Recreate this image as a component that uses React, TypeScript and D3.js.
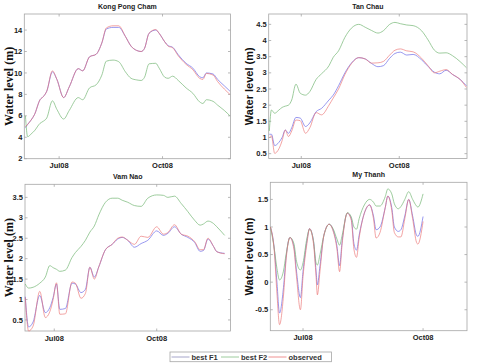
import * as d3 from 'd3';

// Kong Pong Cham
const kpcDates = ['2008-06-01','2008-06-03','2008-06-06','2008-06-09','2008-06-14','2008-06-17','2008-06-20','2008-06-25','2008-06-29','2008-07-05','2008-07-10','2008-07-18','2008-07-22','2008-07-28','2008-08-03','2008-08-08','2008-08-12','2008-08-18','2008-08-23','2008-08-29','2008-09-03','2008-09-08','2008-09-12','2008-09-15','2008-09-19','2008-09-25','2008-09-28','2008-10-03','2008-10-06','2008-10-10','2008-10-15','2008-10-22','2008-10-28','2008-11-03','2008-11-06','2008-11-09','2008-11-15','2008-11-19','2008-11-25','2008-11-30'];
const kpcF1 = [4.9,5.2,5.6,6.1,7.5,7.8,8.3,10.1,9.4,7.7,8.7,10.4,10.2,11.5,11.75,12.8,14.1,14.25,14.25,13.4,12.5,12.1,12.0,12.3,13.7,14.0,13.7,12.9,12.55,12.4,11.7,10.9,10.45,9.65,9.55,10.0,9.9,9.4,8.8,8.3];
const kpcF2 = [6.0,4.05,4.3,4.6,5.3,5.5,5.8,7.4,6.6,5.7,6.5,7.7,7.5,8.6,8.9,9.8,11.1,11.2,11.05,10.1,9.5,9.35,9.3,9.6,10.85,10.9,10.45,9.6,9.5,9.7,9.3,8.6,8.1,7.3,7.15,7.5,7.35,7.0,6.5,6.0];
const kpcObs = [5.0,5.2,5.6,6.1,7.5,7.8,8.3,10.2,9.4,7.7,8.7,10.4,10.2,11.5,11.75,12.8,14.2,14.4,14.4,13.4,12.5,12.1,12.0,12.3,13.7,14.05,13.7,12.9,12.5,12.35,11.6,10.8,10.3,9.5,9.4,9.95,9.8,9.2,8.5,8.0];

// Tan Chau
const tcDates = ['2008-06-01','2008-06-03','2008-06-06','2008-06-10','2008-06-13','2008-06-16','2008-06-19','2008-06-22','2008-06-26','2008-06-30','2008-07-05','2008-07-09','2008-07-15','2008-07-20','2008-07-27','2008-07-31','2008-08-05','2008-08-11','2008-08-17','2008-08-24','2008-08-30','2008-09-05','2008-09-11','2008-09-16','2008-09-22','2008-09-27','2008-10-02','2008-10-08','2008-10-14','2008-10-22','2008-10-28','2008-11-03','2008-11-08','2008-11-14','2008-11-20','2008-11-27','2008-12-03'];
const tcF1 = [1.1,1.1,0.75,0.85,1.0,1.23,1.13,1.3,1.62,1.6,1.34,1.45,1.8,1.9,2.16,2.31,2.6,3.0,3.3,3.47,3.43,3.29,3.19,3.22,3.45,3.6,3.64,3.55,3.57,3.4,3.2,3.02,2.97,3.08,2.95,2.8,2.6];
const tcF2 = [1.2,1.85,1.75,1.85,1.93,1.97,2.0,2.16,2.65,2.37,2.31,2.42,2.8,2.97,3.22,3.48,3.68,4.1,4.38,4.5,4.41,4.31,4.23,4.3,4.5,4.56,4.52,4.48,4.46,4.3,4.02,3.7,3.61,3.62,3.53,3.35,3.16];
const tcObs = [1.0,1.05,0.51,0.65,0.9,1.23,1.03,1.2,1.54,1.52,1.13,1.3,1.77,1.7,2.0,2.22,2.5,2.95,3.28,3.47,3.43,3.3,3.31,3.35,3.55,3.7,3.74,3.68,3.65,3.45,3.22,3.0,3.05,3.1,2.95,2.8,2.55];

// Vam Nao
const vnDates = ['2008-06-05','2008-06-08','2008-06-12','2008-06-18','2008-06-23','2008-06-27','2008-06-30','2008-07-03','2008-07-06','2008-07-11','2008-07-17','2008-07-20','2008-07-25','2008-07-29','2008-08-02','2008-08-06','2008-08-10','2008-08-16','2008-08-22','2008-08-27','2008-08-31','2008-09-05','2008-09-11','2008-09-17','2008-09-23','2008-10-01','2008-10-07','2008-10-11','2008-10-17','2008-10-23','2008-10-29','2008-11-04','2008-11-09','2008-11-12','2008-11-16','2008-11-21','2008-11-24','2008-12-01'];
const vnF1 = [1.07,0.33,0.45,1.1,0.68,0.8,1.05,1.38,0.76,0.78,1.4,1.38,1.17,1.25,1.79,1.55,1.8,2.22,2.35,2.48,2.52,2.45,2.28,2.37,2.45,2.68,2.57,2.62,2.78,2.6,2.52,2.4,2.18,2.2,2.48,2.3,2.17,2.13];
const vnF2 = [1.38,1.28,1.3,1.4,1.55,1.83,1.78,1.74,1.69,1.72,2.03,2.15,2.3,2.45,2.65,2.8,3.07,3.38,3.48,3.48,3.43,3.38,3.3,3.28,3.48,3.56,3.55,3.5,3.53,3.35,3.15,2.94,2.82,2.85,2.92,2.86,2.78,2.57];
const vnObs = [1.05,0.23,0.35,1.2,0.56,0.7,1.0,1.41,0.64,0.65,1.43,1.4,1.03,1.15,1.79,1.5,1.8,2.22,2.35,2.5,2.53,2.45,2.35,2.55,2.52,2.78,2.6,2.64,2.83,2.6,2.55,2.42,2.22,2.22,2.5,2.3,2.17,2.12];

// My Thanh
const mtDates = ['2008-06-06','2008-06-09','2008-06-11','2008-06-13','2008-06-16','2008-06-18','2008-06-21','2008-06-24','2008-06-26','2008-06-29','2008-07-01','2008-07-04','2008-07-06','2008-07-09','2008-07-11','2008-07-12','2008-07-14','2008-07-17','2008-07-21','2008-07-24','2008-07-27','2008-07-29','2008-07-31','2008-08-04','2008-08-07','2008-08-09','2008-08-11','2008-08-13','2008-08-17','2008-08-21','2008-08-24','2008-08-26','2008-08-29','2008-09-02','2008-09-04','2008-09-07','2008-09-09','2008-09-12','2008-09-14','2008-09-17','2008-09-20','2008-09-23','2008-09-26','2008-09-27','2008-10-01'];
const mtF1 = [1.0,0.6,0.0,-0.56,-0.1,0.45,0.81,0.65,0.2,-0.28,0.2,0.75,0.97,0.75,0.2,-0.05,0.3,0.85,1.05,0.95,0.65,0.3,0.75,1.25,1.15,0.7,0.58,0.85,1.25,1.4,1.2,0.95,1.0,1.35,1.56,1.35,1.0,0.92,0.95,1.2,1.5,1.2,0.85,0.83,1.19];
const mtF2 = [1.0,0.6,0.25,0.04,0.2,0.5,0.81,0.7,0.38,0.22,0.35,0.8,0.96,0.75,0.35,0.31,0.5,0.85,1.05,0.97,0.78,0.67,0.85,1.26,1.18,1.0,0.96,1.15,1.4,1.5,1.45,1.38,1.38,1.55,1.69,1.6,1.42,1.33,1.37,1.5,1.64,1.5,1.38,1.36,1.6];
const mtObs = [1.0,0.55,-0.2,-0.77,-0.25,0.4,0.81,0.6,0.1,-0.5,0.1,0.7,0.97,0.7,0.1,-0.23,0.2,0.85,1.05,0.93,0.6,0.19,0.7,1.25,1.12,0.6,0.45,0.8,1.25,1.4,1.15,0.8,0.9,1.35,1.56,1.3,0.9,0.82,0.82,1.15,1.5,1.15,0.72,0.69,1.1];

const xTickDates = ['2008-07-01', '2008-10-01'];
const legendLabels = ['best F1', 'best F2', 'observed'];

const parseDay = d3.timeParse('%Y-%m-%d');
const parseHour = d3.timeParse('%Y-%m-%d %H');
const fmt = d3.timeFormat('%b%y');

const colors = { f1: '#7676ea', f2: '#7dbb7d', obs: '#ea6f6f' };
const serif = '"Liberation Serif", "Times New Roman", serif';
const sans = '"Liberation Sans", Arial, sans-serif';

const panels = [
  { title: 'Kong Pong Cham', dates: kpcDates, f1: kpcF1, f2: kpcF2, obs: kpcObs,
    xDomain: ['2008-05-31 00', '2008-11-30 12'], yDomain: [2, 15.5], yTicks: [2, 4, 6, 8, 10, 12, 14],
    box: [24.3, 14, 230.5, 158.7], labelFont: serif, labelSize: 12, labelX: 8.5 },
  { title: 'Tan Chau', dates: tcDates, f1: tcF1, f2: tcF2, obs: tcObs,
    xDomain: ['2008-05-31 10', '2008-12-03 14'], yDomain: [0.35, 4.82], yTicks: [0.5, 1, 1.5, 2, 2.5, 3, 3.5, 4, 4.5],
    box: [268.7, 14, 467, 158.5], labelFont: sans, labelSize: 11, labelX: 249 },
  { title: 'Vam Nao', dates: vnDates, f1: vnF1, f2: vnF2, obs: vnObs,
    xDomain: ['2008-06-04 18', '2008-12-06 06'], yDomain: [0.23, 3.82], yTicks: [0.5, 1, 1.5, 2, 2.5, 3, 3.5],
    box: [25, 184.3, 230.5, 331], labelFont: serif, labelSize: 12, labelX: 8.7 },
  { title: 'My Thanh', dates: mtDates, f1: mtF1, f2: mtF2, obs: mtObs,
    xDomain: ['2008-06-05 22', '2008-11-03 16'], yDomain: [-0.88, 1.81], yTicks: [-0.5, 0, 0.5, 1, 1.5],
    box: [270.3, 182.3, 467, 330.7], labelFont: sans, labelSize: 11, labelX: 248.7 },
];

function Panel({ p }: { p: any }) {
  const [l, t, r, b] = p.box;
  const x = d3.scaleTime().domain(p.xDomain.map((s: string) => parseHour(s))).range([l, r]);
  const y = d3.scaleLinear().domain(p.yDomain).range([b, t]);
  const dates = p.dates.map((s: string) => parseDay(s));
  const line = d3.line<number>()
    .x((_, i) => x(dates[i]))
    .y((v) => y(v))
    .curve(d3.curveMonotoneX);
  const tk = 2.5;
  return (
    <g>
      <text x={(l + r) / 2} y={t - 5} textAnchor="middle" fontFamily={sans} fontWeight="bold" fontSize={7} fill="#222">{p.title}</text>
      <rect x={l} y={t} width={r - l} height={b - t} fill="white" stroke="#a6a6a6" strokeWidth={0.8} />
      {p.yTicks.map((v: number) => (
        <g key={v}>
          <line x1={l} x2={l + tk} y1={y(v)} y2={y(v)} stroke="#a6a6a6" strokeWidth={0.8} />
          <line x1={r} x2={r - tk} y1={y(v)} y2={y(v)} stroke="#a6a6a6" strokeWidth={0.8} />
          <text x={l - 2} y={y(v)} dy="0.35em" textAnchor="end" fontFamily={sans} fontWeight="bold" fontSize={7.5} fill="#222">{v}</text>
        </g>
      ))}
      {xTickDates.map((s) => {
        const d = parseDay(s)!;
        const xx = x(d);
        return (
          <g key={s}>
            <line x1={xx} x2={xx} y1={b} y2={b - tk} stroke="#a6a6a6" strokeWidth={0.8} />
            <line x1={xx} x2={xx} y1={t} y2={t + tk} stroke="#a6a6a6" strokeWidth={0.8} />
            <text x={xx} y={b + 9.5} textAnchor="middle" fontFamily={sans} fontWeight="bold" fontSize={7.5} fill="#222">{fmt(d)}</text>
          </g>
        );
      })}
      <text transform={`translate(${p.labelX},${(t + b) / 2}) rotate(-90)`} dy="0.35em" textAnchor="middle"
        fontFamily={p.labelFont} fontWeight="bold" fontSize={p.labelSize} fill="#111">Water level (m)</text>
      <path d={line(p.f1) || ''} fill="none" stroke={colors.f1} strokeWidth={0.75} />
      <path d={line(p.f2) || ''} fill="none" stroke={colors.f2} strokeWidth={0.75} />
      <path d={line(p.obs) || ''} fill="none" stroke={colors.obs} strokeWidth={0.75} strokeOpacity={0.85} />
    </g>
  );
}

export default function App() {
  const legendColors = ['#8a8ab8', colors.f2, colors.obs];
  const legendX = [171.5, 221, 268.5];
  return (
    <svg width={477} height={364} style={{ position: 'absolute', left: 0, top: 0, background: 'white' }}>
      {panels.map((p) => <Panel key={p.title} p={p} />)}
      <rect x={170} y={352} width={161.5} height={9.7} fill="white" stroke="#a6a6a6" strokeWidth={0.8} />
      {legendLabels.map((name, i) => (
        <g key={name}>
          <line x1={legendX[i]} x2={legendX[i] + 18} y1={357} y2={357} stroke={legendColors[i]} strokeWidth={0.75} />
          <text x={legendX[i] + 20} y={357} dy="0.35em" fontFamily={sans} fontWeight="bold" fontSize={7.5} fill="#333">{name}</text>
        </g>
      ))}
    </svg>
  );
}
